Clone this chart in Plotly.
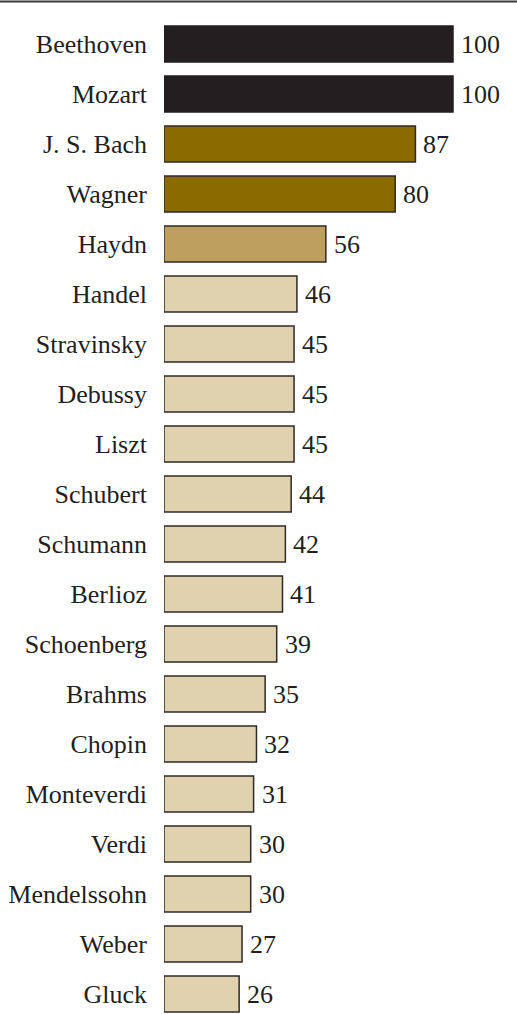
import plotly.graph_objects as go

composers = ["Beethoven", "Mozart", "J. S. Bach", "Wagner", "Haydn", "Handel",
             "Stravinsky", "Debussy", "Liszt", "Schubert", "Schumann", "Berlioz",
             "Schoenberg", "Brahms", "Chopin", "Monteverdi", "Verdi",
             "Mendelssohn", "Weber", "Gluck"]
scores = [100, 100, 87, 80, 56, 46, 45, 45, 45, 44, 42, 41, 39, 35, 32, 31, 30,
          30, 27, 26]
tiers = ["top", "top", "high", "high", "mid", "low", "low", "low", "low", "low",
         "low", "low", "low", "low", "low", "low", "low", "low", "low", "low"]

tier_fill = {"top": "#231f20", "high": "#8b6b00", "mid": "#bf9f60", "low": "#e0d1af"}
tier_line = {"top": "#231f20", "high": "#2e2a26", "mid": "#2e2a26", "low": "#2e2a26"}

W, H = 517, 1014
TOP, LEFT = 19, 164
ink = "#231f20"
font_family = "Liberation Serif"

fig = go.Figure(go.Bar(
    x=scores,
    y=composers,
    orientation="h",
    marker=dict(color=[tier_fill[t] for t in tiers],
                line=dict(color=[tier_line[t] for t in tiers], width=1.5)),
    width=0.72,
    hoverinfo="x+y",
))

for name, val in zip(composers, scores):
    fig.add_annotation(x=val, y=name, text=str(val), showarrow=False,
                       xanchor="left", yanchor="middle", xshift=6,
                       font=dict(family=font_family, size=26, color=ink))

plot_h = H - TOP
span = plot_h / 50.0
fig.update_yaxes(categoryorder="array", categoryarray=composers,
                 range=[-0.5 + span, -0.5], showgrid=False, zeroline=False,
                 showline=False, ticks="", ticklabelstandoff=16,
                 tickfont=dict(family=font_family, size=26, color=ink))
fig.update_xaxes(range=[0, (W - LEFT) / 2.89], visible=False, showgrid=False,
                 zeroline=False)

# rule across the top edge of the page
fig.add_shape(type="line", xref="paper", yref="paper", x0=-LEFT / (W - LEFT), x1=1,
              y0=1 + (TOP - 1.5) / plot_h, y1=1 + (TOP - 1.5) / plot_h,
              line=dict(color="#3a3a3a", width=2))

fig.update_layout(width=W, height=H, margin=dict(l=LEFT, r=0, t=TOP, b=0),
                  paper_bgcolor="white", plot_bgcolor="white", showlegend=False,
                  font=dict(family=font_family, color=ink))

fig.write_html("out.html")
